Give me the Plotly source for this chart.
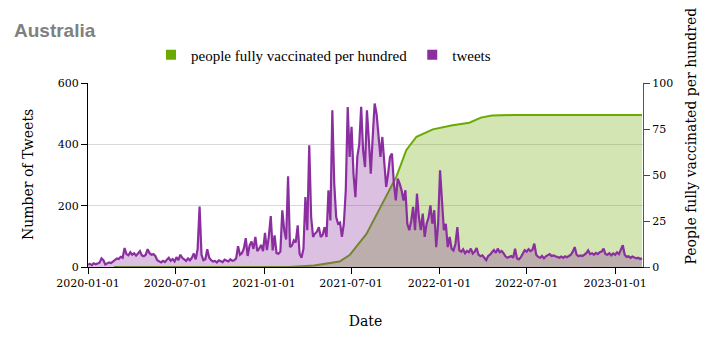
import plotly.graph_objects as go
import pandas as pd

# tweets sampled every 4 days from 2020-01-01
tweet_start = '2020-01-01'
tweets = [
    8, 10, 6, 12, 9, 11, 14, 28, 22, 8, 12, 15, 13, 18,
    24, 28, 26, 33, 30, 62,
    42, 38, 48, 40, 45, 37,
    44, 52, 38, 35, 40,
    58, 45, 40, 42, 36,
    22, 18, 15, 20, 16,
    24, 30, 20, 26, 18, 32, 22, 40,
    30, 25, 20, 28, 22, 30, 44,
    25, 60, 197, 40, 22,
    25, 58, 30,
    22, 18, 20, 15, 22, 18, 16, 24, 20, 18, 25, 20, 22, 28,
    68, 40, 45, 60, 94, 36, 70, 83, 59, 98, 52, 60, 72, 52, 111, 55,
    100, 166, 54, 103, 45, 43, 50, 185, 120, 90, 296, 65, 70, 87, 80,
    136, 43, 30, 60, 228, 120, 397, 163, 98, 109, 115, 130,
    98, 105, 130, 98, 250, 152, 511, 272, 163, 141, 145, 98,
    141, 250, 522, 359, 457, 304, 228, 359, 400, 522, 380, 326,
    511, 413, 304, 424, 533, 500, 435, 359, 424, 326,
    261, 304, 359, 370, 272,
    217, 288, 272, 250, 217, 250,
    141, 120, 150, 196, 120, 239, 163, 120, 174, 98, 141,
    160, 201, 141, 185, 65, 141, 315, 217, 120,
    141, 65, 98, 60, 54, 76, 130, 54,
    50, 58, 45, 52, 48, 60, 44, 50, 62,
    40, 35, 38, 30, 22, 36,
    40, 48, 55, 46, 60, 48, 52, 45,
    35, 30, 33, 36, 30, 60, 28, 25, 32,
    45, 55, 50, 58, 52, 56, 76,
    40, 33, 30, 36, 28, 35, 38,
    42, 36, 38, 35,
    32, 30, 34, 30, 35, 32, 36, 40, 50, 65,
    40, 35, 38, 36, 40, 45, 54,
    42, 45, 40, 46, 42, 48, 50, 60,
    42, 40, 45, 38, 44, 40, 48, 42, 55, 71,
    40, 33, 35, 30, 34, 32,
    28, 30, 26, 28,
]
tweet_dates = pd.date_range(tweet_start, periods=len(tweets), freq='4D')

vacc_dates = [
    '2020-02-24', '2021-02-22', '2021-04-15', '2021-05-17', '2021-06-07',
    '2021-06-28', '2021-08-02', '2021-09-05', '2021-10-03', '2021-10-24',
    '2021-11-14', '2021-12-18', '2022-01-28', '2022-03-04', '2022-03-28',
    '2022-04-20', '2022-06-01', '2023-02-26',
]
vacc = [
    0, 0, 0.8, 2.3, 3.0,
    6.5, 18, 35, 49, 63.6,
    70.8, 74.8, 77, 78.4, 81.2,
    82.3, 82.6, 82.6,
]

x_ticks = ['2020-01-01', '2020-07-01', '2021-01-01', '2021-07-01',
           '2022-01-01', '2022-07-01', '2023-01-01']

purple = 'rgb(139,47,160)'
green = 'rgb(106,170,0)'
serif = 'DejaVu Serif'

# page body adds an 8px margin, so the figure is drawn 8px smaller
W, H = 706, 338
ML, MR, MT, MB = 80, 71, 75, 79
plot_w = W - ML - MR
plot_h = H - MT - MB

fig = go.Figure()

# vaccination on the right axis, drawn first so tweets sit on top
fig.add_trace(go.Scatter(
    x=vacc_dates, y=vacc, yaxis='y',
    mode='lines', line=dict(color=green, width=2),
    fill='tozeroy', fillcolor='rgba(106,170,0,0.3)',
    showlegend=False, hoverinfo='skip'
))
fig.add_trace(go.Scatter(
    x=tweet_dates, y=tweets, yaxis='y2',
    mode='lines', line=dict(color=purple, width=2.2),
    fill='tozeroy', fillcolor='rgba(139,47,160,0.3)',
    showlegend=False, hoverinfo='skip'
))

# legend entries as squares
fig.add_trace(go.Scatter(
    x=[None], y=[None], mode='markers', name='people fully vaccinated per hundred',
    marker=dict(symbol='square', size=10, color=green)
))
fig.add_trace(go.Scatter(
    x=[None], y=[None], mode='markers', name='tweets',
    marker=dict(symbol='square', size=10, color=purple)
))

fig.update_layout(
    width=W, height=H,
    margin=dict(l=ML, r=MR, t=MT, b=MB),
    plot_bgcolor='white', paper_bgcolor='white',
    font=dict(family=serif, size=11, color='black'),
    title=dict(
        text='<b>Australia</b>', x=6/W, xanchor='left', y=1 - 22/H, yanchor='middle',
        font=dict(family='Liberation Sans', size=19, color='#808080')
    ),
    legend=dict(
        orientation='h', xref='paper', yref='paper',
        x=(143 - ML)/plot_w, xanchor='left', y=(H - MB - 47)/plot_h, yanchor='middle',
        font=dict(family='Liberation Serif', size=15),
        itemwidth=30,
    ),
    xaxis=dict(
        type='date', range=['2020-01-01', '2023-02-28'],
        tickvals=x_ticks, ticktext=x_ticks,
        ticks='outside', ticklen=6, tickcolor='black',
        showline=True, linecolor='black', showgrid=False, zeroline=False,
        title=dict(text='Date', standoff=26, font=dict(size=14)),
    ),
    yaxis=dict(
        side='right', range=[0, 100], tickvals=[0, 25, 50, 75, 100],
        ticks='outside', ticklen=6, tickcolor='#444',
        showline=True, linecolor='#555', showgrid=False, zeroline=False,
    ),
    yaxis2=dict(
        side='left', overlaying='y', range=[0, 600], tickvals=[0, 200, 400, 600],
        ticks='outside', ticklen=6, tickcolor='black',
        showline=True, linecolor='black', showgrid=True, gridcolor='#d9d9d9',
        zeroline=False,
    ),
    annotations=[
        dict(text='Number of Tweets', textangle=-90, xref='paper', yref='paper',
             x=0, y=0.5, xanchor='center', yanchor='middle', xshift=-60,
             showarrow=False, font=dict(size=14)),
        dict(text='People fully vaccinated per hundred', textangle=-90,
             xref='paper', yref='paper', x=1, y=0, xanchor='center', yanchor='bottom',
             xshift=47, showarrow=False, font=dict(size=14)),
    ],
)

fig.write_html("out.html")
